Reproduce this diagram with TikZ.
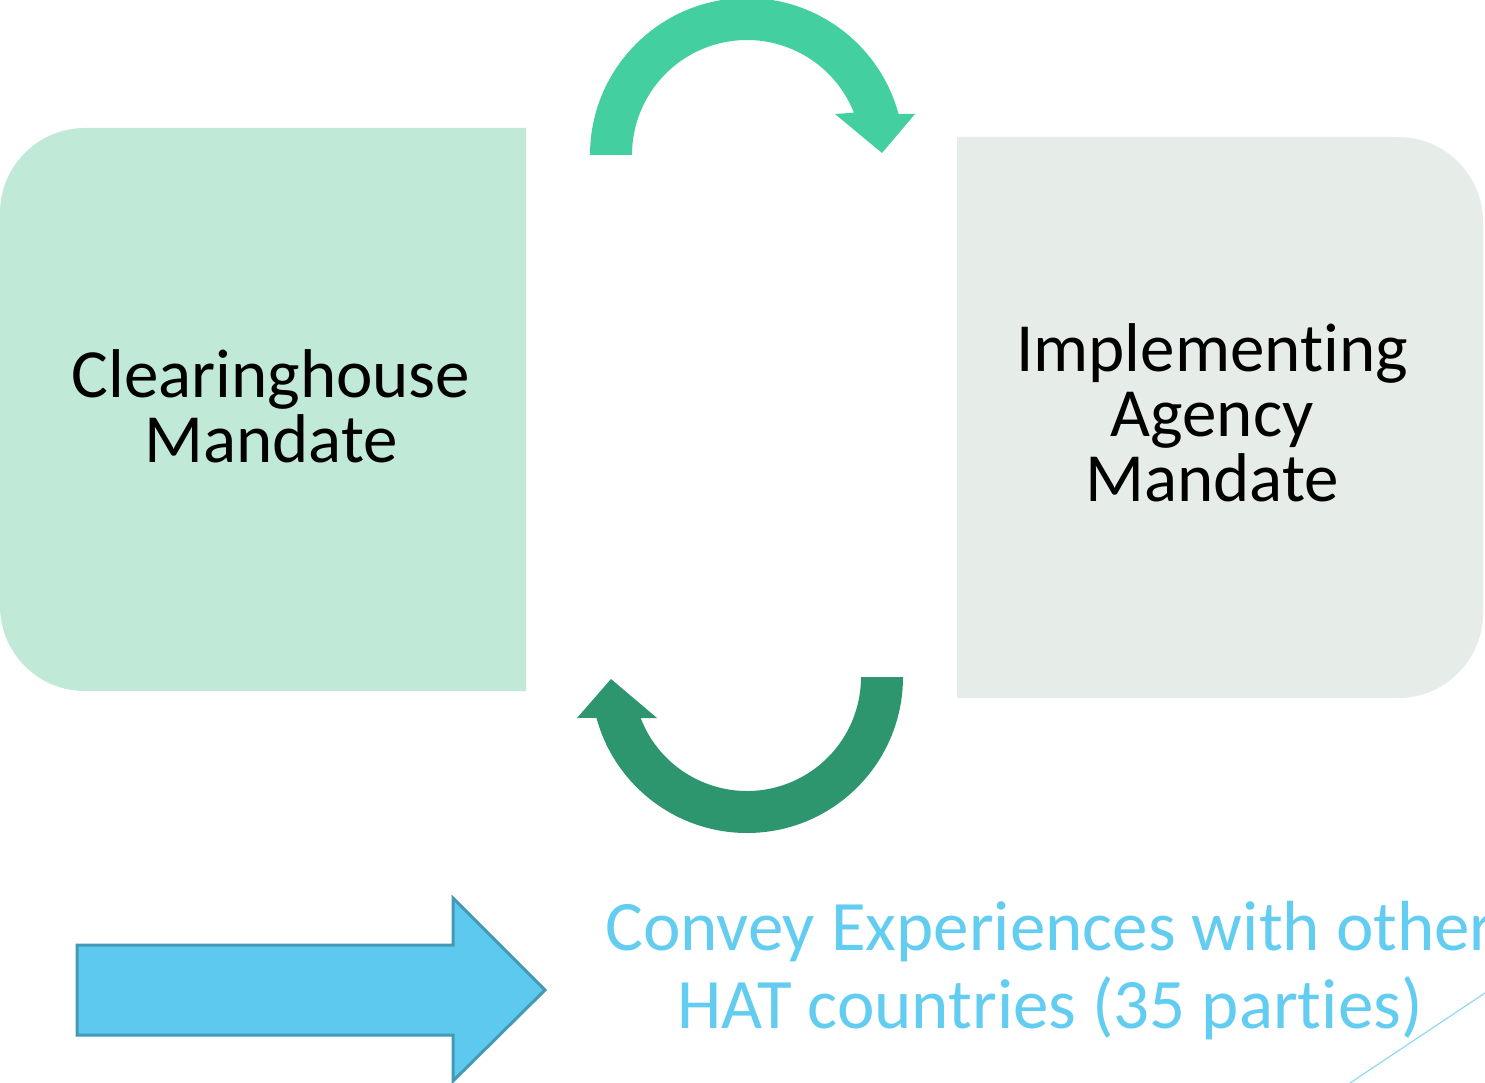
\documentclass[tikz,border=0pt]{standalone}
\usepackage{fontspec}
\setmainfont{Carlito}[Ligatures={NoCommon}]
\definecolor{boxgreen}{HTML}{C0E9D8}
\definecolor{boxgrey}{HTML}{E6EDE9}
\definecolor{arrowlight}{HTML}{44CFA0}
\definecolor{arrowdark}{HTML}{2E966F}
\definecolor{bigfill}{HTML}{5DC9EE}
\definecolor{bigedge}{HTML}{4499B5}
\definecolor{bluetext}{HTML}{62CDF0}
\definecolor{diagline}{HTML}{8ED8F2}
\tikzset{
  boxtext/.style={font=\fontsize{69}{65}\selectfont, align=center, text=black, inner sep=0pt},
  bluelabel/.style={font=\fontsize{71}{78}\selectfont, align=center, text=bluetext, inner sep=0pt},
}
\begin{document}
\begin{tikzpicture}[x=1pt,y=-1pt]
\clip (0,0) rectangle (1485,1083);
\fill[white] (0,0) rectangle (1485,1083);
% left box (rounded on the left)
\fill[boxgreen] (526,128) -- (526,691) -- (85,691) arc[start angle=90,end angle=180,radius=85] -- (0,213) arc[start angle=180,end angle=270,radius=85] -- cycle;
% right box (rounded on the right)
\fill[boxgrey] (957,137) -- (1398,137) arc[start angle=-90,end angle=0,radius=85] -- (1483,613) arc[start angle=0,end angle=90,radius=85] -- (957,698) -- cycle;
\node[boxtext] (clear) at (271,406) {Clearinghouse\\Mandate};
\node[boxtext] (impl) at (1212,413) {Implementing\\Agency\\Mandate};
% top circular arrow
\fill[arrowlight] ([shift={(180:157)}]747,155) arc[start angle=-180,end angle=-15.2,radius=157]
  -- (915,114) -- (882,153) -- (835,114)
  -- ([shift={(-21.6:115)}]747,155) arc[start angle=-21.6,end angle=-180,radius=115] -- cycle;
% bottom circular arrow
\fill[arrowdark] ([shift={(0:156)}]747,677) arc[start angle=0,end angle=164.8,radius=156]
  -- (577,718) -- (611,679) -- (657,718)
  -- ([shift={(158.9:114)}]747,677) arc[start angle=158.9,end angle=0,radius=114] -- cycle;
% big blue arrow
\draw[fill=bigfill, draw=bigedge, line width=3pt, line join=miter]
  (77,945) -- (453,945) -- (453,898) -- (545,990) -- (453,1081) -- (453,1035) -- (77,1035) -- cycle;
\node[bluelabel] (convey) at (1050,971) {Convey Experiences with other\\HAT countries (35 parties)};
% thin diagonal line
\coordinate (d1) at (1350,1083);
\coordinate (d2) at (1485,993);
\draw[diagline, line width=1.2pt] (d1) -- (d2);
\end{tikzpicture}
\end{document}
